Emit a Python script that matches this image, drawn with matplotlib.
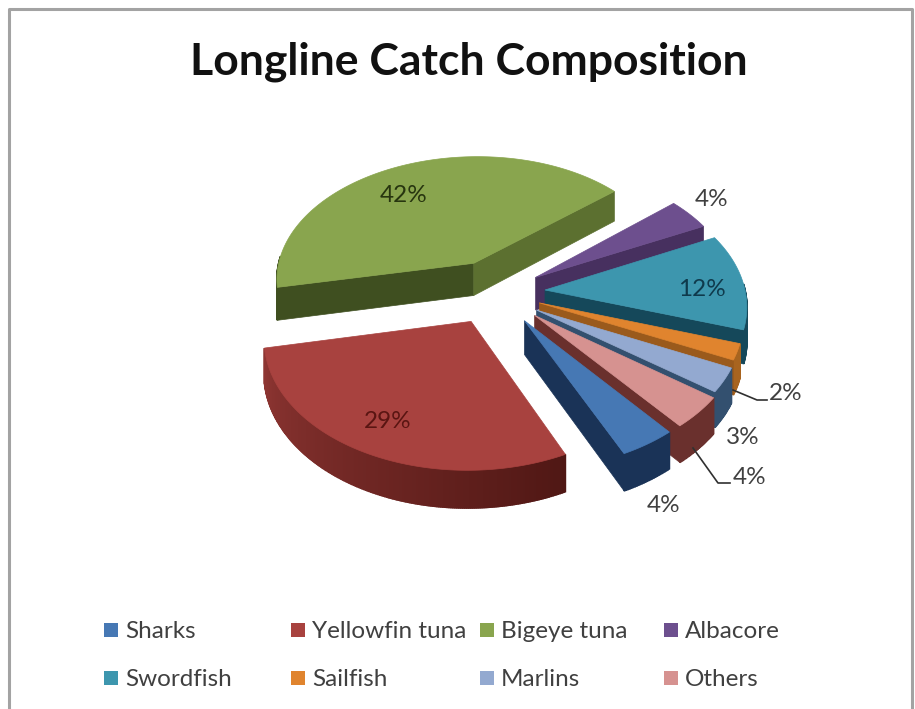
import numpy as np
import matplotlib
matplotlib.use("Agg")
import matplotlib.pyplot as plt
from matplotlib.colors import to_rgb
from matplotlib.patches import Polygon, Rectangle

# ---- data ----
categories = ["Sharks", "Yellowfin tuna", "Bigeye tuna", "Albacore",
              "Swordfish", "Sailfish", "Marlins", "Others"]
shares = [4, 29, 42, 4, 12, 2, 3, 4]
percent_labels = ["4%", "29%", "42%", "4%", "12%", "2%", "3%", "4%"]

# ---- style ----
top_colors = ["#4678b4", "#a8423f", "#89a54e", "#6d4f8e", "#3d96ae", "#e0842e", "#93a9d0", "#d69290"]
cut_colors = ["#1a3357", "#4d1613", "#3f4f20", "#47305f", "#15485a", "#9a5a1c", "#33506f", "#6a302d"]
rim_dark = ["#1a3357", "#4d1613", "#3f4f20", "#47305f", "#15485a", "#a8641f", "#33506f", "#6a302d"]
rim_light = ["#1f3b62", "#8f3633", "#3f4f20", "#47305f", "#1c5a6c", "#a8641f", "#3a5a7c", "#6a302d"]
# wedge explosion, in the plane of the pie
explode_x = [19, -33, -32, 31, 40, 34, 31, 29]
explode_y = [47, 48, -43, -20, 0, 20, 31, 39]
draw_order = [2, 3, 4, 5, 6, 7, 0, 1]
first_angle = 140.0
radius, tilt, persp, depth = 200.0, 0.637, 0.00057, 33.0
cx, cy = 505.0, 290.0

label_xy = [(664, 505), (388, 422), (404, 196), (712, 199),
            (702, 289), (786, 394), (743, 438), (750, 478)]
label_colors = ["#404040", "#5a1512", "#27350f", "#404040", "#0f3a4c", "#404040", "#404040", "#404040"]
legend_columns = [104, 291, 480, 664]
legend_rows = [631, 679]

fig = plt.figure(figsize=(9.15, 7.09), dpi=100)
ax = fig.add_axes([0, 0, 1, 1])
ax.set_xlim(0, 915)
ax.set_ylim(709, 0)
ax.axis("off")
plt.rcParams["font.family"] = ["Lato", "DejaVu Sans"]


def project(X, Y, z=0.0):
    s = 1 + persp * np.asarray(Y)
    return cx + np.asarray(X) * s, cy + np.asarray(Y) * tilt * s + z * depth * s


def mix(a, b, t):
    a, b = np.array(to_rgb(a)), np.array(to_rgb(b))
    return tuple(a + (b - a) * t)


spans = np.array(shares) / sum(shares) * 360.0
starts = first_angle + np.concatenate([[0], np.cumsum(spans)[:-1]])

for i in draw_order:
    a0, a1 = starts[i], starts[i] + spans[i]
    th = np.radians(np.linspace(a0, a1, max(int(spans[i]), 3) * 2))
    X = explode_x[i] + radius * np.sin(th)
    Y = explode_y[i] - radius * np.cos(th)
    ox, oy = explode_x[i], explode_y[i]
    z = 2 + draw_order.index(i)

    def cut(k, color):
        xa, ya = project([ox, X[k]], [oy, Y[k]])
        xb, yb = project([ox, X[k]], [oy, Y[k]], 1.0)
        ax.add_patch(Polygon(np.c_[np.r_[xa, xb[::-1]], np.r_[ya, yb[::-1]]],
                             fc=color, ec=color, lw=0.5, zorder=z))

    # cut faces that turn toward the viewer
    if np.sin(th[0]) < 0:
        cut(0, cut_colors[i])
    # outer rim, shaded along the arc
    for k in range(len(th) - 1):
        if np.cos(th[k]) < 0.05:
            xa, ya = project(X[k:k + 2], Y[k:k + 2])
            xb, yb = project(X[k:k + 2], Y[k:k + 2], 1.0)
            t = np.clip((np.degrees(th[k]) % 360 - 150) / 110, 0, 1)
            c = mix(rim_dark[i], rim_light[i], t)
            ax.add_patch(Polygon(np.c_[np.r_[xa, xb[::-1]], np.r_[ya, yb[::-1]]],
                                 fc=c, ec=c, lw=1.2, zorder=z))
    if np.sin(th[-1]) > 0:
        cut(-1, "#5c7030" if i == 2 else cut_colors[i])
    px, py = project(np.r_[ox, X], np.r_[oy, Y])
    ax.add_patch(Polygon(np.c_[px, py], fc=top_colors[i], ec=top_colors[i], lw=0.5, zorder=z))

# data labels and leader lines
for txt, (lx, ly), col in zip(percent_labels, label_xy, label_colors):
    ax.text(lx, ly, txt, ha="center", va="center", fontsize=17.5, color=col, zorder=20)
ax.plot([733, 757, 767], [390, 400, 400], color="#303030", lw=1.2, zorder=20)
ax.plot([693, 718, 730], [448, 483, 483], color="#303030", lw=1.2, zorder=20)

# title
ax.text(469, 62, "Longline Catch Composition", ha="center", va="center",
        fontsize=32, fontweight="bold", color="#111111", zorder=20)

# legend
for i, name in enumerate(categories):
    col_x = legend_columns[i % 4]
    row_y = legend_rows[i // 4]
    ax.add_patch(Rectangle((col_x, row_y - 8), 14, 14, fc=top_colors[i], ec="none", zorder=20))
    ax.text(col_x + 21, row_y, name, ha="left", va="center", fontsize=17.5, color="#404040", zorder=20)

# chart frame
ax.plot([9, 9, 912, 912], [709, 9, 9, 709], color="#a3a3a3", lw=2.2, zorder=1)

fig.savefig("out.png", dpi=100, facecolor="white")
